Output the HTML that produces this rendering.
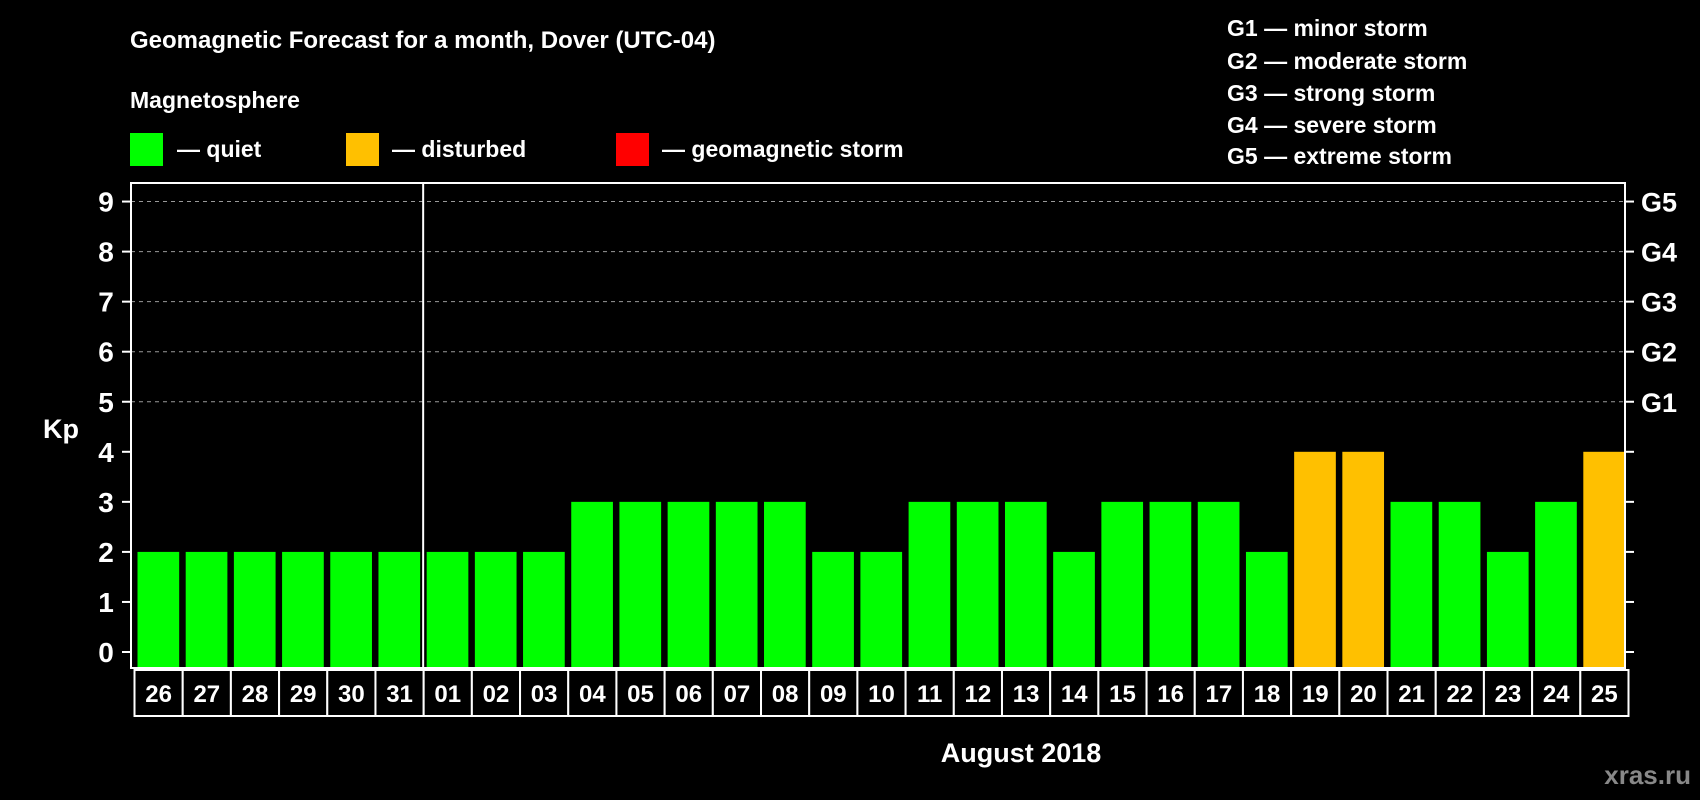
<!DOCTYPE html>
<html><head><meta charset="utf-8"><style>
html,body{margin:0;padding:0;background:#000;}
svg{display:block;font-family:"Liberation Sans",Arial,sans-serif;font-weight:bold;}
</style></head><body>
<svg id="chart" width="1700" height="800" viewBox="0 0 1700 800">
<rect x="0" y="0" width="1700" height="800" fill="#000"/>
<text x="130" y="48" fill="#fff" font-size="24">Geomagnetic Forecast for a month, Dover (UTC-04)</text>
<text x="130" y="108" fill="#fff" font-size="23">Magnetosphere</text>
<g><rect x="130" y="133" width="33" height="33" fill="#00ff00"/><text x="177" y="157" fill="#fff" font-size="23">— quiet</text></g>
<g><rect x="346" y="133" width="33" height="33" fill="#ffc000"/><text x="392" y="157" fill="#fff" font-size="23">— disturbed</text></g>
<g><rect x="616" y="133" width="33" height="33" fill="#ff0000"/><text x="662" y="157" fill="#fff" font-size="23">— geomagnetic storm</text></g>
<g fill="#fff" font-size="23">
<text x="1227" y="36">G1 — minor storm</text>
<text x="1227" y="69">G2 — moderate storm</text>
<text x="1227" y="101">G3 — strong storm</text>
<text x="1227" y="133">G4 — severe storm</text>
<text x="1227" y="164">G5 — extreme storm</text>
</g>
<text x="43" y="438" fill="#fff" font-size="27">Kp</text>
<text x="1021" y="762" fill="#fff" font-size="27" text-anchor="middle">August 2018</text>
<text x="1691" y="784" fill="#888" font-size="26" text-anchor="end">xras.ru</text>
<g id="plot"></g>
</svg>
<script>
const days = ["26","27","28","29","30","31","01","02","03","04","05","06","07","08","09","10","11","12","13","14","15","16","17","18","19","20","21","22","23","24","25"];
const kpValues = [2,2,2,2,2,2,2,2,2,3,3,3,3,3,2,2,3,3,3,2,3,3,3,2,4,4,3,3,2,3,4];
const yTicks = [0,1,2,3,4,5,6,7,8,9];
const gLabels = ["G1","G2","G3","G4","G5"];
const gLevels = [5,6,7,8,9];

const NS = "http://www.w3.org/2000/svg";
const L = 131, R = 1625, T = 183, B = 668;
const band = (R - L) / days.length;
const yScale = v => 652 - v * 50.05;
const xScale = i => L + i * band;
const plot = document.getElementById('plot');
function mk(tag, attrs, parent) {
  const e = document.createElementNS(NS, tag);
  for (const k in attrs) e.setAttribute(k, attrs[k]);
  (parent || plot).appendChild(e);
  return e;
}
// grid lines and ticks
yTicks.forEach(v => {
  const y = yScale(v);
  if (v >= 5) {
    const g = mk('line', {x1: L, x2: R, y1: y, y2: y, stroke: '#999', 'stroke-width': 1, 'stroke-dasharray': '4,4'});
    
    
  }
  const tl = mk('line', {x1: L - 9, x2: L, y1: y, y2: y, stroke: '#fff', 'stroke-width': 2});
  
  
  const tr = mk('line', {x1: R, x2: R + 9, y1: y, y2: y, stroke: '#fff', 'stroke-width': 2});
  
  
  const t = mk('text', {x: 106, y: y + 10, fill: '#fff', 'font-size': 28, 'text-anchor': 'middle'});
  t.textContent = v;
  
  
});
gLabels.forEach((g, i) => {
  const t = mk('text', {x: 1641, y: yScale(gLevels[i]) + 10, fill: '#fff', 'font-size': 27});
  t.textContent = g;
  
  
});
// bars
kpValues.forEach((v, i) => {
  const x = xScale(i) + 6.5;
  const y = yScale(v);
  const color = v >= 5 ? '#ff0000' : (v >= 4 ? '#ffc000' : '#00ff00');
  const b = mk('rect', {x: x, y: y, width: band - 6.5, height: B - y, fill: color});
  
  
});
// frame
const fr = mk('rect', {x: L, y: T, width: R - L, height: B - T, fill: 'none', stroke: '#fff', 'stroke-width': 2});


const dv = mk('line', {x1: xScale(6) + 3, x2: xScale(6) + 3, y1: T, y2: B, stroke: '#fff', 'stroke-width': 2});


// date label boxes
days.forEach((d, i) => {
  const x = xScale(i) + 3.5;
  const r = mk('rect', {x: x, y: 670, width: band, height: 46, fill: '#000', stroke: '#fff', 'stroke-width': 2});
  
  
  const t = mk('text', {x: x + band / 2, y: 702, fill: '#fff', 'font-size': 24, 'text-anchor': 'middle'});
  t.textContent = d;
  
  
});
</script>
</body></html>
